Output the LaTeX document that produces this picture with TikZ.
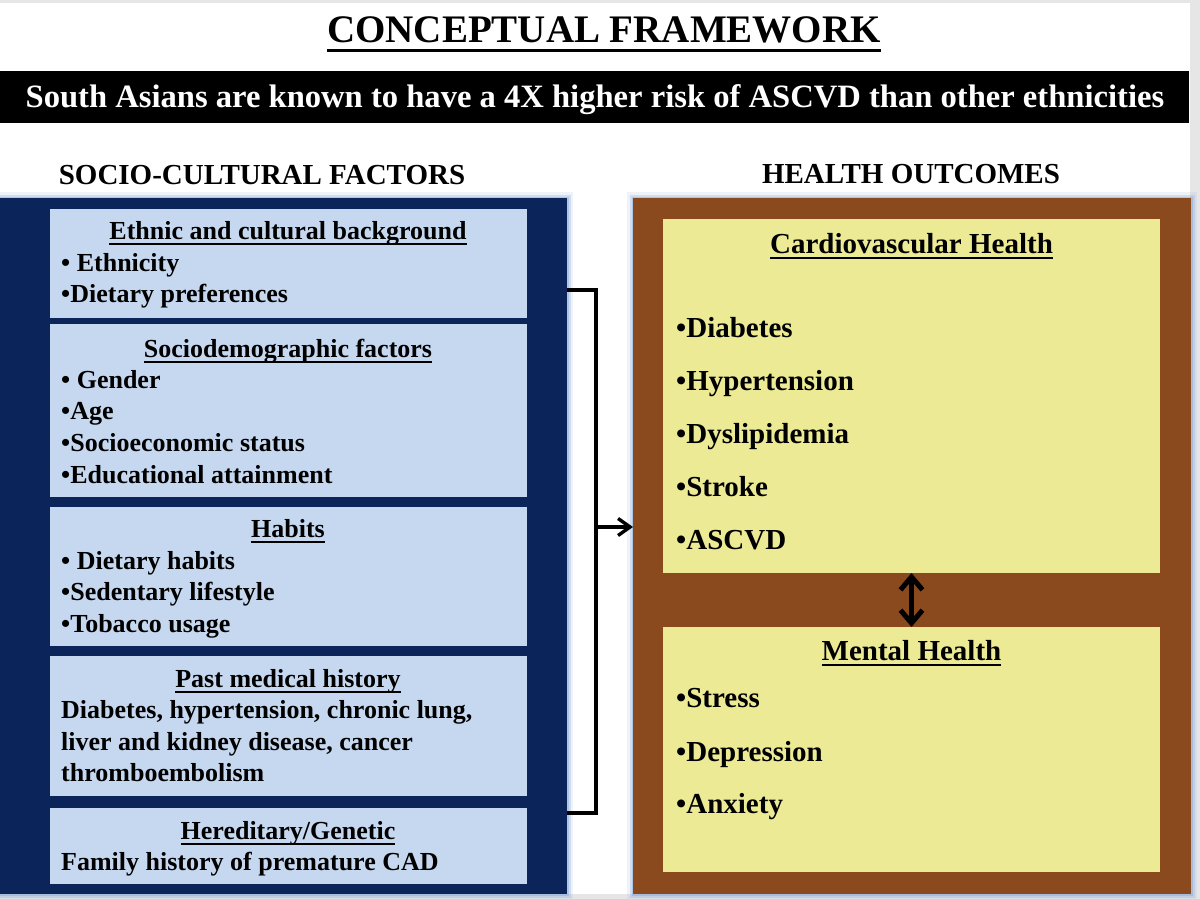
\documentclass[tikz,border=0pt]{standalone}
\usepackage{fontspec}
\setmainfont{Liberation Serif}
\usetikzlibrary{arrows.meta}
\definecolor{navy}{HTML}{0B2459}
\definecolor{lightbox}{HTML}{C6D8EF}
\definecolor{brownpanel}{HTML}{8B4A1D}
\definecolor{yellowbox}{HTML}{ECEA94}
\definecolor{glowblue}{HTML}{8FAEDB}
\definecolor{bggray}{HTML}{E6E6E6}
\newcommand\ulin[1]{\setbox0\hbox{#1}\rlap{\rule[-0.22em]{\wd0}{0.07em}}\box0}
\tikzset{
  panel/.style={draw=none, anchor=north west, inner sep=0pt, outer sep=0pt},
  glowa/.style={line width=12pt, draw=glowblue, opacity=0.15},
  glowb/.style={line width=7pt, draw=glowblue, opacity=0.3},
  glowc/.style={line width=3pt, draw=glowblue, opacity=0.5},
  leftbox/.style={fill=lightbox, draw=none, anchor=north west, inner sep=0pt, outer sep=0pt, minimum width=477pt},
  ybox/.style={fill=yellowbox, draw=none, anchor=north west, inner sep=0pt, outer sep=0pt, minimum width=497pt},
  ltxt/.style={inner sep=0pt, font=\fontsize{26}{31}\selectfont\bfseries, text=black},
  rtxt/.style={inner sep=0pt, font=\fontsize{29}{34}\selectfont\bfseries, text=black},
  sechead/.style={inner sep=0pt, font=\fontsize{29}{34}\selectfont\bfseries, text=black, anchor=base},
  conn/.style={line width=3.4pt, draw=black},
}
\begin{document}
\begin{tikzpicture}[x=1pt,y=-1pt]
\useasboundingbox (0,0) rectangle (1200,899);
\fill[bggray] (0,0) rectangle (1200,899);
\fill[white] (0,3) rectangle (1190,894);

% title
\node[inner sep=0pt, anchor=base, font=\fontsize{39}{44}\selectfont\bfseries] (title) at (604,43) {\ulin{CONCEPTUAL FRAMEWORK}};
% band
\node[panel, fill=black, minimum width=1189pt, minimum height=52pt] (band) at (0,71) {};
\node[inner sep=0pt, anchor=base, text=white, font=\fontsize{32.6}{38}\selectfont\bfseries] (bandtxt) at (595,107) {South Asians are known to have a 4X higher risk of ASCVD than other ethnicities};

% section headings
\node[sechead] (sc) at (262,184) {SOCIO-CULTURAL FACTORS};
\node[sechead] (ho) at (911,183) {HEALTH OUTCOMES};

% panels with glow
\foreach \g in {glowa,glowb,glowc}{
  \draw[\g] (0,198) rectangle (567,894);
  \draw[\g] (633,198) rectangle (1191,894);
}
\node[panel, fill=navy, minimum width=567pt, minimum height=696pt] (left) at (0,198) {};
\node[panel, fill=brownpanel, minimum width=558pt, minimum height=696pt] (right) at (633,198) {};

% left boxes
\node[leftbox, minimum height=109pt] (b1) at (50,209) {};
\node[leftbox, minimum height=173pt] (b2) at (50,324) {};
\node[leftbox, minimum height=139pt] (b3) at (50,507) {};
\node[leftbox, minimum height=140pt] (b4) at (50,656) {};
\node[leftbox, minimum height=76pt] (b5) at (50,808) {};

% box 1
\node[ltxt, anchor=base] (h1) at (288,239) {\ulin{Ethnic and cultural background}};
\node[ltxt, anchor=base west] (t11) at (61,271) {• Ethnicity};
\node[ltxt, anchor=base west] (t12) at (61,302) {•Dietary preferences};
% box 2
\node[ltxt, anchor=base] (h2) at (288,357) {\ulin{Sociodemographic factors}};
\node[ltxt, anchor=base west] (t21) at (61,388) {• Gender};
\node[ltxt, anchor=base west] (t22) at (61,419) {•Age};
\node[ltxt, anchor=base west] (t23) at (61,451) {•Socioeconomic status};
\node[ltxt, anchor=base west] (t24) at (61,483) {•Educational attainment};
% box 3
\node[ltxt, anchor=base] (h3) at (288,537) {\ulin{Habits}};
\node[ltxt, anchor=base west] (t31) at (61,569) {• Dietary habits};
\node[ltxt, anchor=base west] (t32) at (61,600) {•Sedentary lifestyle};
\node[ltxt, anchor=base west] (t33) at (61,632) {•Tobacco usage};
% box 4
\node[ltxt, anchor=base] (h4) at (288,687) {\ulin{Past medical history}};
\node[ltxt, anchor=base west] (t41) at (61,718) {Diabetes, hypertension, chronic lung,};
\node[ltxt, anchor=base west] (t42) at (61,750) {liver and kidney disease, cancer};
\node[ltxt, anchor=base west] (t43) at (61,781) {thromboembolism};
% box 5
\node[ltxt, anchor=base] (h5) at (288,839) {\ulin{Hereditary/Genetic}};
\node[ltxt, anchor=base west] (t51) at (61,870) {Family history of premature CAD};

% right boxes
\node[ybox, minimum height=354pt] (y1) at (663,219) {};
\node[ybox, minimum height=245pt] (y2) at (663,627) {};
\node[rtxt, anchor=base] (hc) at (911.5,253) {\ulin{Cardiovascular Health}};
\node[rtxt, anchor=base west] (c1) at (676,337) {•Diabetes};
\node[rtxt, anchor=base west] (c2) at (676,390) {•Hypertension};
\node[rtxt, anchor=base west] (c3) at (676,443) {•Dyslipidemia};
\node[rtxt, anchor=base west] (c4) at (676,496) {•Stroke};
\node[rtxt, anchor=base west] (c5) at (676,549) {•ASCVD};
\node[rtxt, anchor=base] (hm) at (911.5,660) {\ulin{Mental Health}};
\node[rtxt, anchor=base west] (m1) at (676,707) {•Stress};
\node[rtxt, anchor=base west] (m2) at (676,761) {•Depression};
\node[rtxt, anchor=base west] (m3) at (676,813) {•Anxiety};

% connectors
\coordinate (brtop) at (left.east |- 0,290);
\coordinate (brbot) at (left.east |- 0,813);
\coordinate (bra) at (596,290);
\coordinate (brb) at (596,813);
\coordinate (brmid) at (596,527);
\draw[conn, line join=miter] (brtop) -- (bra) -- (brb) -- (brbot);
\draw[conn, -{Straight Barb[length=12pt,width=17pt]}] (brmid) -- (right.west |- brmid);
\draw[line width=5pt, {Straight Barb[length=13pt,width=22pt]}-{Straight Barb[length=13pt,width=22pt]}] (y1.south) -- (y2.north);
\end{tikzpicture}
\end{document}
